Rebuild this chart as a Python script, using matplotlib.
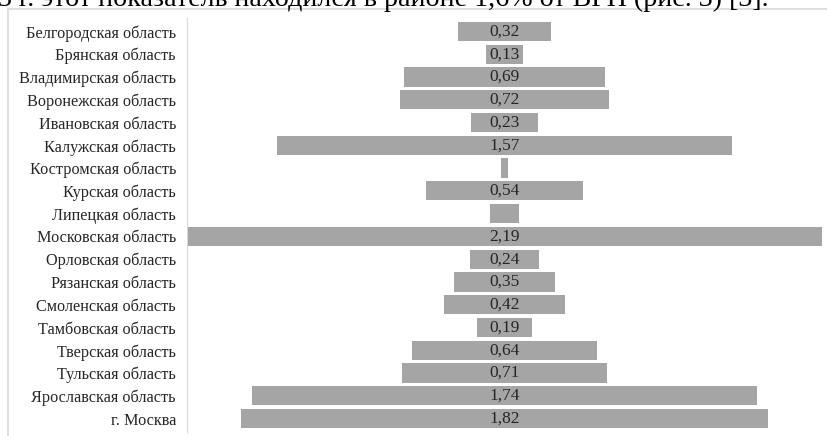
import matplotlib.pyplot as plt
from matplotlib.patches import Rectangle

# доля по регионам ЦФО, %
regions = ["Белгородская область", "Брянская область", "Владимирская область",
           "Воронежская область", "Ивановская область", "Калужская область",
           "Костромская область", "Курская область", "Липецкая область",
           "Московская область", "Орловская область", "Рязанская область",
           "Смоленская область", "Тамбовская область", "Тверская область",
           "Тульская область", "Ярославская область", "г. Москва"]
values = [0.32, 0.13, 0.69, 0.72, 0.23, 1.57, 0.025, 0.54, 0.10,
          2.19, 0.24, 0.35, 0.42, 0.19, 0.64, 0.71, 1.74, 1.82]
labels = ["0,32", "0,13", "0,69", "0,72", "0,23", "1,57", "", "0,54", "",
          "2,19", "0,24", "0,35", "0,42", "0,19", "0,64", "0,71", "1,74", "1,82"]

plt.rcParams['font.family'] = ['Liberation Serif', 'DejaVu Serif']

W, H = 828, 436
fig = plt.figure(figsize=(W / 100, H / 100), dpi=100)

# рамка области диаграммы
fig.patches.append(Rectangle((8 / W, -0.1), 1.0, 1 - 9 / H + 0.1,
                             transform=fig.transFigure, fill=False,
                             edgecolor='#d9d9d9', linewidth=1.2))

# обрывок строки текста над диаграммой
fig.text(-0.002, 1 - 6 / H, "3 г. этот показатель находился в районе 1,6% от ВРП (рис. 3) [3].",
         fontsize=20.2, va='baseline', ha='left', color='black')

ax = fig.add_axes([187 / W, 1 - 430 / H, 635 / W, 410 / H])
y = list(range(len(regions)))
lefts = [-v / 2 for v in values]
ax.barh(y, values, left=lefts, height=0.84, color='#a5a5a5')
for yi, lab in zip(y, labels):
    if lab:
        ax.text(0, yi, lab, ha='center', va='center', fontsize=12.5, color='#262626')

m = max(values) / 2
ax.set_xlim(-m, m)
ax.set_ylim(len(regions) - 0.5, -0.5)
ax.set_yticks(y)
ax.set_yticklabels(regions, fontsize=11.7, color='#262626')
ax.tick_params(axis='y', length=0, pad=8)
ax.set_xticks([])
for s in ['top', 'right', 'bottom']:
    ax.spines[s].set_visible(False)
ax.spines['left'].set_color('#d9d9d9')
ax.spines['left'].set_bounds(-0.6, len(regions) - 0.4)

fig.savefig('out.png', dpi=100)
